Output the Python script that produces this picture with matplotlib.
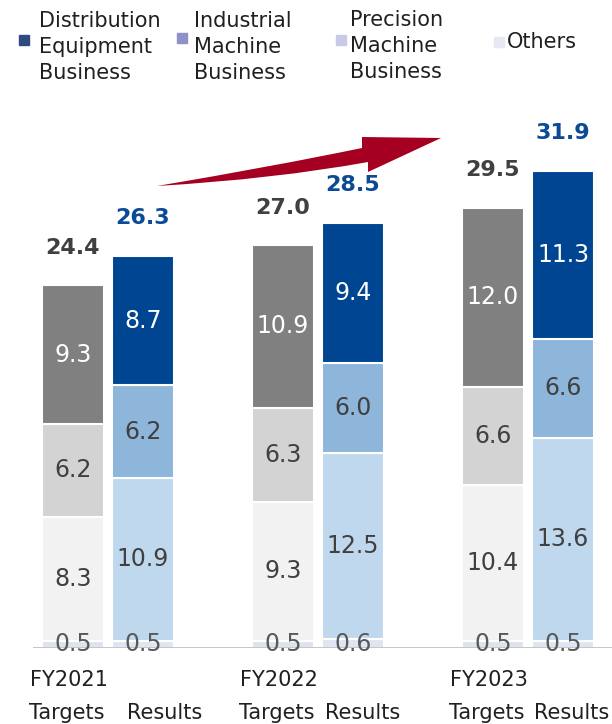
import numpy as np
import matplotlib.pyplot as plt
from matplotlib.path import Path
from matplotlib.patches import PathPatch, Rectangle

# Data
years = ["FY2021", "FY2022", "FY2023"]
segments = ["Others", "Precision Machine Business", "Industrial Machine Business",
            "Distribution Equipment Business"]
targets = {
    "Others": [0.5, 0.5, 0.5],
    "Precision Machine Business": [8.3, 9.3, 10.4],
    "Industrial Machine Business": [6.2, 6.3, 6.6],
    "Distribution Equipment Business": [9.3, 10.9, 12.0],
}
results = {
    "Others": [0.5, 0.6, 0.5],
    "Precision Machine Business": [10.9, 12.5, 13.6],
    "Industrial Machine Business": [6.2, 6.0, 6.6],
    "Distribution Equipment Business": [8.7, 9.4, 11.3],
}
target_totals = [24.4, 27.0, 29.5]
result_totals = [26.3, 28.5, 31.9]

target_colors = ["#dfe3f0", "#f2f2f2", "#d3d3d3", "#808080"]
result_colors = ["#dfe5f2", "#c0d8ee", "#8eb5da", "#004592"]
target_text = ["#595959", "#404040", "#404040", "white"]
result_text = ["#595959", "#404040", "#404040", "white"]

W, H = 612, 724
fig = plt.figure(figsize=(W / 100, H / 100), dpi=100)
plt.rcParams['font.family'] = ['DejaVu Sans']
PT = 72 / 100  # points per pixel

# axes placed so baseline sits at y=648 px
ax = fig.add_axes([33 / W, (H - 648) / H, 579 / W, 560 / H])
ax.set_xlim(-0.357, 2.4)
ax.set_ylim(0, 560 / 14.92)

x = np.arange(len(years))
off = 0.1667
bw = 0.295

for series, colors, tcolors, dx in [(targets, target_colors, target_text, -off),
                                    (results, result_colors, result_text, off)]:
    bottom = np.zeros(len(years))
    for seg, c, tc in zip(segments, colors, tcolors):
        vals = np.array(series[seg])
        ax.bar(x + dx, vals, bw, bottom=bottom, color=c, edgecolor="white",
               linewidth=1.5, zorder=2)
        for xi, b, v in zip(x + dx, bottom, vals):
            ax.text(xi, b + v / 2, f"{v:.1f}", ha="center", va="center",
                    fontsize=17, color=tc, zorder=4)
        bottom += vals
    totals = target_totals if dx < 0 else result_totals
    tcol = "#404040" if dx < 0 else "#0a4a96"
    for xi, b, t in zip(x + dx, bottom, totals):
        ax.annotate(f"{t:.1f}", (xi, b), xytext=(0, 27), textcoords="offset points",
                    ha="center", va="center", fontsize=16, fontweight="bold",
                    color=tcol)

ax.axhline(0, color="#c0c0c0", linewidth=2, zorder=3)
for s in ax.spines.values():
    s.set_visible(False)
ax.set_xticks([])
ax.set_yticks([])

# category labels
res_left = [-16, -28, -29]
for xi, yr, rl in zip(x, years, res_left):
    ax.annotate(yr, (xi - off, 0), xytext=(-4 * PT, -32 * PT), textcoords="offset points",
                ha="center", va="center", fontsize=15, color="#202020",
                annotation_clip=False)
    ax.annotate("Targets", (xi - off, 0), xytext=(-44 * PT, -65 * PT),
                textcoords="offset points", ha="left", va="center", fontsize=15,
                color="#202020", annotation_clip=False)
    ax.annotate("Results", (xi + off, 0), xytext=(rl * PT, -65 * PT),
                textcoords="offset points", ha="left", va="center", fontsize=15,
                color="#202020", annotation_clip=False)

# legend
def px(xp, yp):
    return xp / W, 1 - yp / H

legend_items = [
    ("Distribution\nEquipment\nBusiness", "#2f4a80", 19, 40, 39, 47),
    ("Industrial\nMachine\nBusiness", "#8e92c8", 177, 38, 194, 47),
    ("Precision\nMachine\nBusiness", "#c8cae6", 336, 40, 350, 46),
    ("Others", "#e6e8f4", 494, 42, 507, 42),
]
for label, col, sx, sy, tx, ty in legend_items:
    fx, fy = px(sx, sy + 5)
    fig.patches.append(Rectangle((fx, fy), 10 / W, 10 / H, transform=fig.transFigure,
                                 color=col, figure=fig))
    fx, fy = px(tx, ty)
    fig.text(fx, fy, label, ha="left", va="center", fontsize=15, color="#202020",
             linespacing=1.37)

# curved arrow
pts = [(157, 186), (270, 167), (362, 148), (362, 137), (441, 138),
       (368, 172), (368, 162), (275, 179), (157, 186)]
codes = [Path.MOVETO, Path.CURVE3, Path.CURVE3, Path.LINETO, Path.LINETO,
         Path.LINETO, Path.LINETO, Path.CURVE3, Path.CURVE3]
verts = [px(a, b) for a, b in pts]
fig.patches.append(PathPatch(Path(verts, codes), transform=fig.transFigure,
                             facecolor="#a50021", edgecolor="none", figure=fig))

fig.savefig("out.png", dpi=100)
